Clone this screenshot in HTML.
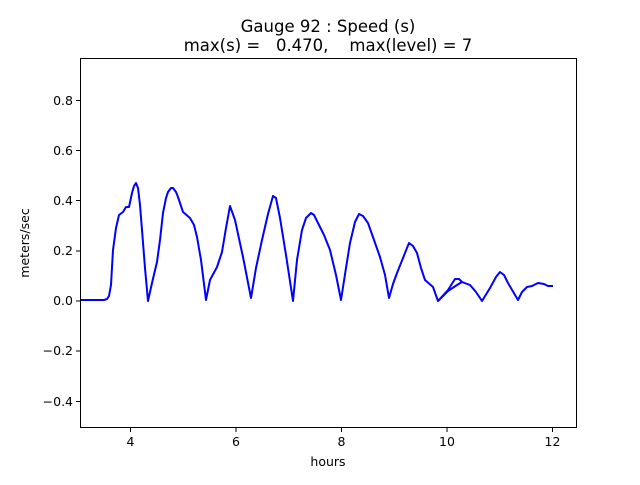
<!DOCTYPE html>
<html><head><meta charset="utf-8"><style>body{margin:0;background:#fff}</style></head><body>
<svg width="640" height="480" xmlns="http://www.w3.org/2000/svg" font-family="DejaVu Sans, Liberation Sans, sans-serif">
<rect width="640" height="480" fill="#fff"/>
<text x="328" y="32" font-size="16.5" text-anchor="middle">Gauge 92 : Speed (s)</text>
<text x="328" y="51" font-size="16.5" text-anchor="middle" xml:space="preserve">max(s) =   0.470,    max(level) = 7</text>
<g stroke="#00f" stroke-width="2" fill="none" stroke-linejoin="round">
<polyline points="80,300 104,300 107,299 109,296 111,285 113,250 116,228 119,215 123,212 126,207 129,207 132,193 134,186 136,183 138,188 140,205 142,230 145,268 148,301 152,283 157,262 160,240 163,213 166,198 168,192 171,188 173,188 176,192 178,197 183,212 190,218 194,225 197,237 201,260 206,300 210,280 217,267 222,252 226,228 230,206 235,220 243,257 251,298 256,268 262,240 268,214 273,196 276,198 280,218 286,255 293,301 297,260 302,230 306,218 311,213 314,215 318,223 324,235 330,250 336,275 341,300 346,268 350,243 355,222 359,214 363,216 368,223 374,240 380,257 385,275 389,298 393,284 397,273 403,258 409,243 413,246 417,253 421,268 425,280 433,287 438,301 448,290 455,279 459,279 462,282 470,285 476,292 482,301 490,288 496,277 500,272 504,275 508,283 518,300 522,292 527,287 532,286 538,283 544,284 548,286 553,286"/>
<polyline points="438,301 448,291 457,285 462,282"/>
</g>
<rect x="80.5" y="58.5" width="496" height="369" fill="none" stroke="#000" stroke-width="1"/>
<g stroke="#000" stroke-width="1">
<line x1="130.5" y1="428" x2="130.5" y2="432"/><line x1="236" y1="428" x2="236" y2="432"/><line x1="341.5" y1="428" x2="341.5" y2="432"/><line x1="447" y1="428" x2="447" y2="432"/><line x1="552.5" y1="428" x2="552.5" y2="432"/>
<line x1="76" y1="100.5" x2="80" y2="100.5"/><line x1="76" y1="150.5" x2="80" y2="150.5"/><line x1="76" y1="200.5" x2="80" y2="200.5"/><line x1="76" y1="251" x2="80" y2="251"/><line x1="76" y1="301" x2="80" y2="301"/><line x1="76" y1="351" x2="80" y2="351"/><line x1="76" y1="401.5" x2="80" y2="401.5"/>
</g>
<g font-size="12.5" text-anchor="middle">
<text x="130.5" y="446">4</text><text x="236" y="446">6</text><text x="341.5" y="446">8</text><text x="447" y="446">10</text><text x="552.5" y="446">12</text>
<text x="328" y="466">hours</text>
</g>
<g font-size="12.5" text-anchor="end">
<text x="73" y="105">0.8</text><text x="73" y="155">0.6</text><text x="73" y="205">0.4</text><text x="73" y="255">0.2</text><text x="73" y="305">0.0</text><text x="73" y="355">−0.2</text><text x="73" y="406">−0.4</text>
</g>
<text transform="translate(29,243) rotate(-90)" font-size="12.5" text-anchor="middle">meters/sec</text>
</svg>
</body></html>
